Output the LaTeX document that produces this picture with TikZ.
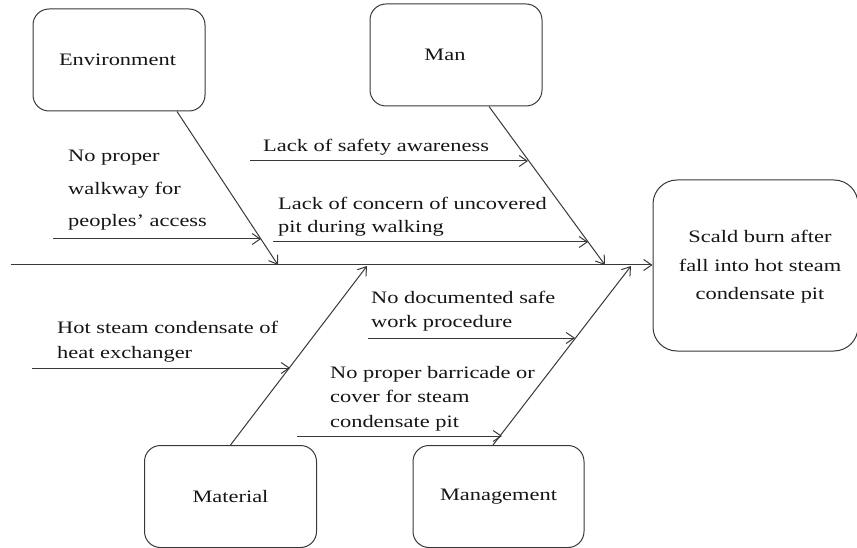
\documentclass[tikz,border=0pt]{standalone}
\usepackage{fontspec}
\setmainfont[FakeStretch=1.28]{Liberation Serif}
\usetikzlibrary{arrows.meta}
\definecolor{ln}{HTML}{383838}
\definecolor{tx}{HTML}{151515}
\newcommand{\ftxt}[2]{\fontsize{17.5}{#1}\selectfont\begin{tabular}[t]{@{}#2@{}}}
\begin{document}
\begin{tikzpicture}[x=1pt,y=-1pt,
  catbox/.style={draw=ln,line width=1pt,rounded corners=16pt,minimum width=172pt,minimum height=102pt,inner sep=0pt,text=tx,font=\fontsize{17.5}{21}\selectfont},
  bone/.style={draw=ln,line width=1pt,-{Straight Barb[length=8pt,width=11pt]}},
  lbl/.style={inner sep=0pt,anchor=base west,text=tx},
  cbox/.style={inner sep=0pt,anchor=base,text=tx}]
\useasboundingbox (0,0) rectangle (857,548);
% boxes
\node[catbox] (env) at (119,60) {\kern-3pt Environment};
\node[catbox] (man) at (456,55) {\kern-22pt Man};
\node[catbox] (mat) at (230.5,496.5) {Material};
\node[catbox,minimum width=171pt] (mgt) at (498.5,496.5) {Management};
\node[draw=ln,line width=1pt,rounded corners=24pt,minimum width=205pt,minimum height=171pt,inner sep=0pt] (eff) at (755.5,265.5) {};
\node[cbox] (efftxt) at (760,243) {\ftxt{28.5}{c}Scald burn after\\fall into hot steam\\condensate pit\end{tabular}};
% spine
\coordinate (sp0) at (11,265);
\draw[bone] (sp0) -- (eff.west |- sp0);
% bone tips
\coordinate (envt) at (278,265);
\coordinate (mant) at (605,265);
\coordinate (matt) at (367,266);
\coordinate (mgtt) at (631,266);
\draw[bone] ([xshift=58pt]env.south) -- (envt);
\draw[bone] ([xshift=33pt]man.south) -- (mant);
\draw[bone] (mat.north) -- (matt);
\draw[bone] ([xshift=-5.5pt]mgt.north) -- (mgtt);
% sub-cause arrows
\coordinate (a1s) at (53,239);  \coordinate (a1e) at (261,239);
\coordinate (a2s) at (250,161); \coordinate (a2e) at (528,161);
\coordinate (a3s) at (273,242); \coordinate (a3e) at (588,242);
\coordinate (a4s) at (32,368);  \coordinate (a4e) at (290,368);
\coordinate (a5s) at (368,338); \coordinate (a5e) at (575,338);
\coordinate (a6s) at (297,436); \coordinate (a6e) at (502,436);
\foreach \i in {1,...,6} {\draw[bone] (a\i s) -- (a\i e);}
% labels
\node[lbl] (t1) at (68,162) {\ftxt{32.5}{l}No proper\\walkway for\\peoples’ access\end{tabular}};
\node[lbl] (t2) at (263,152) {\ftxt{21}{l}Lack of safety awareness\end{tabular}};
\node[lbl] (t3) at (278,210) {\ftxt{23}{l}Lack of concern of uncovered\\pit during walking\end{tabular}};
\node[lbl] (t4) at (57,333) {\ftxt{25}{l}Hot steam condensate of\\heat exchanger\end{tabular}};
\node[lbl] (t5) at (371,303) {\ftxt{24}{l}No documented safe\\work procedure\end{tabular}};
\node[lbl] (t6) at (330,378) {\ftxt{24.5}{l}No proper barricade or\\cover for steam\\condensate pit\end{tabular}};
\end{tikzpicture}
\end{document}
